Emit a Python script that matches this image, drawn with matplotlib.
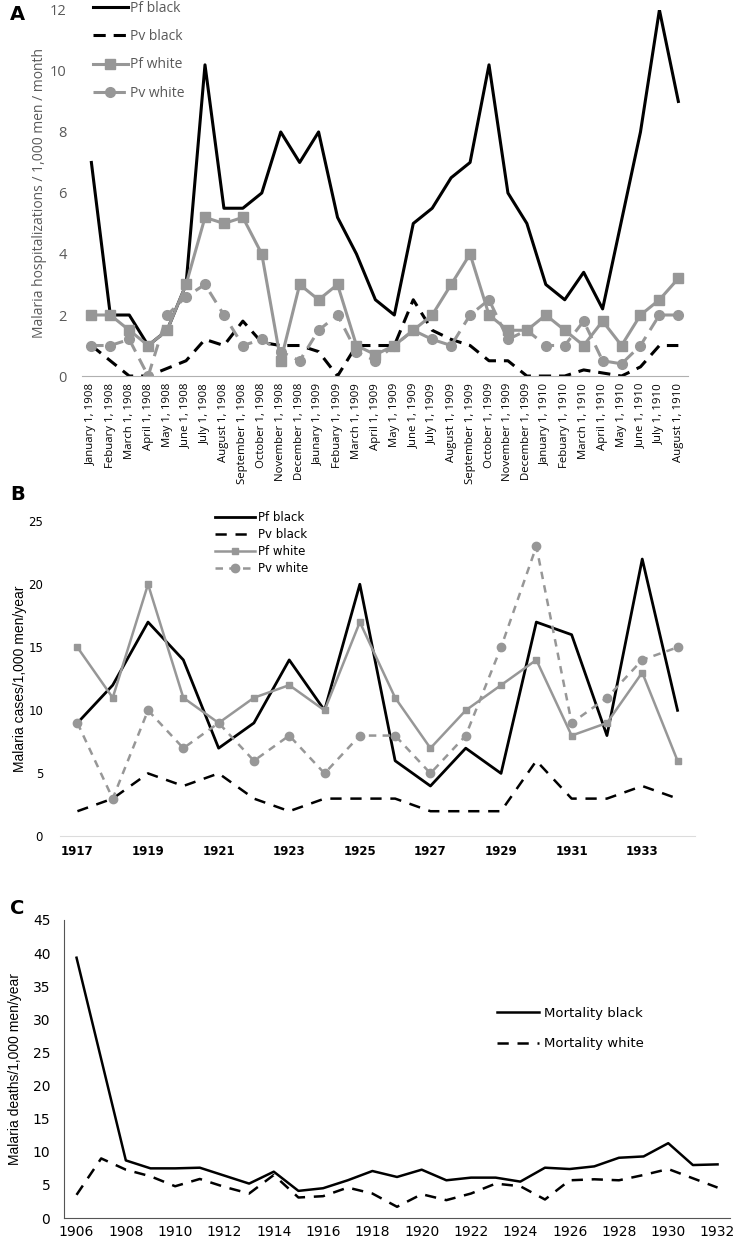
import numpy as np
import matplotlib
matplotlib.use("Agg")
import matplotlib.pyplot as plt

# ----------- Panel A data: monthly hospitalizations 1908-1910 -----------
months = ["January 1, 1908", "Febuary 1, 1908", "March 1, 1908", "April 1, 1908",
          "May 1, 1908", "June 1, 1908", "July 1, 1908", "August 1, 1908",
          "September 1, 1908", "October 1, 1908", "November 1, 1908", "December 1, 1908",
          "Jaunary 1, 1909", "Febuary 1, 1909", "March 1, 1909", "April 1, 1909",
          "May 1, 1909", "June 1, 1909", "July 1, 1909", "August 1, 1909",
          "September 1, 1909", "October 1, 1909", "November 1, 1909", "December 1, 1909",
          "January 1, 1910", "Febuary 1, 1910", "March 1, 1910", "April 1, 1910",
          "May 1, 1910", "June 1, 1910", "July 1, 1910", "August 1, 1910"]
a_pf_black = [7, 2, 2, 1, 1.5, 3, 10.2, 5.5, 5.5, 6, 8, 7, 8, 5.2, 4, 2.5,
              2, 5, 5.5, 6.5, 7, 10.2, 6, 5, 3, 2.5, 3.4, 2.2, 5.1, 8, 12, 9]
a_pv_black = [1, 0.5, 0, 0, 0.25, 0.5, 1.2, 1, 1.8, 1.1, 1, 1, 0.8, 0, 1, 1,
              1, 2.5, 1.5, 1.2, 1, 0.5, 0.5, 0, 0, 0, 0.2, 0.1, 0, 0.3, 1, 1]
a_pf_white = [2, 2, 1.5, 1, 1.5, 3, 5.2, 5, 5.2, 4, 0.5, 3, 2.5, 3, 1, 0.7,
              1, 1.5, 2, 3, 4, 2, 1.5, 1.5, 2, 1.5, 1, 1.8, 1, 2, 2.5, 3.2]
a_pv_white = [1, 1, 1.2, 0, 2, 2.6, 3, 2, 1, 1.2, 0.8, 0.5, 1.5, 2, 0.8, 0.5,
              1, 1.5, 1.2, 1, 2, 2.5, 1.2, 1.5, 1, 1, 1.8, 0.5, 0.4, 1, 2, 2]

# ----------- Panel B data: yearly cases 1917-1934 -----------
b_years = list(range(1917, 1935))
b_pf_black = [9, 12, 17, 14, 7, 9, 14, 10, 20, 6, 4, 7, 5, 17, 16, 8, 22, 10]
b_pv_black = [2, 3, 5, 4, 5, 3, 2, 3, 3, 3, 2, 2, 2, 6, 3, 3, 4, 3]
b_pf_white = [15, 11, 20, 11, 9, 11, 12, 10, 17, 11, 7, 10, 12, 14, 8, 9, 13, 6]
b_pv_white = [9, 3, 10, 7, 9, 6, 8, 5, 8, 8, 5, 8, 15, 23, 9, 11, 14, 15]

# ----------- Panel C data: yearly deaths 1906-1932 -----------
c_years = list(range(1906, 1933))
c_mort_black = [39.3, 24, 8.7, 7.5, 7.5, 7.6, 6.4, 5.2, 7.0, 4.1, 4.5, 5.7, 7.1, 6.2,
                7.3, 5.7, 6.1, 6.1, 5.5, 7.6, 7.4, 7.8, 9.1, 9.3, 11.3, 8.0, 8.1]
c_mort_white = [3.5, 9.0, 7.3, 6.3, 4.8, 5.9, 4.7, 3.7, 6.5, 3.1, 3.3, 4.6, 3.7, 1.7,
                3.6, 2.7, 3.7, 5.2, 4.8, 2.8, 5.7, 5.85, 5.7, 6.5, 7.4, 6.0, 4.6]

GRAY = "#979797"
TXT = "#595959"
narrow = ["Liberation Sans Narrow", "Liberation Sans"]

fig = plt.figure(figsize=(7.38, 12.41), dpi=100)

# ----------- A -----------
axA = fig.add_axes([0.111, 0.697, 0.821, 0.295])
xa = np.arange(len(months))
axA.plot(xa, a_pf_black, color="black", lw=2.2, label="Pf black")
axA.plot(xa, a_pv_black, color="black", lw=2.2, dashes=(4, 2.6), label="Pv black")
axA.plot(xa, a_pf_white, color=GRAY, lw=2.2, marker="s", ms=6.5, label="Pf white")
axA.plot(xa, a_pv_white, color=GRAY, lw=2.2, dashes=(4, 2.6), marker="o", ms=7,
         label="Pv white")
axA.set_xlim(-0.5, len(months) - 0.5)
axA.set_ylim(0, 12)
axA.set_yticks(range(0, 13, 2))
axA.set_xticks(xa)
axA.set_xticklabels(months, rotation=90, fontsize=8.2, color="black",
                    family="Open Sans")
axA.tick_params(axis="x", length=0, pad=5)
axA.tick_params(axis="y", length=0, pad=11, labelsize=10.5, labelcolor=TXT)
for s in ["top", "right", "left"]:
    axA.spines[s].set_visible(False)
axA.spines["bottom"].set_color("#b0b0b0")
axA.set_ylabel("Malaria hospitalizations / 1,000 men / month", fontsize=10,
               color=TXT, family="Open Sans")
axA.yaxis.set_label_coords(-0.058, 0.5)
for lab in axA.get_yticklabels():
    lab.set_family("Open Sans")
axA.legend(loc="upper left", bbox_to_anchor=(93 / 738, 1 - 1 / 1241),
           bbox_transform=fig.transFigure, frameon=False,
           labelcolor=TXT, handlelength=2.5, handletextpad=0.2,
           labelspacing=0.95, borderpad=0, borderaxespad=0,
           prop={"family": "Open Sans", "size": 10})
fig.text(10 / 738, 1 - 14 / 1241, "A", fontsize=14, fontweight="bold", va="center")

# ----------- B -----------
axB = fig.add_axes([0.081, 0.326, 0.861, 0.254])
xb = np.arange(len(b_years))
axB.plot(xb, b_pf_black, color="black", lw=2, label="Pf black")
axB.plot(xb, b_pv_black, color="black", lw=1.8, dashes=(4.5, 3.5), label="Pv black")
axB.plot(xb, b_pf_white, color=GRAY, lw=1.8, marker="s", ms=4.5, label="Pf white")
axB.plot(xb, b_pv_white, color=GRAY, lw=1.8, dashes=(3, 2.5), marker="o", ms=6,
         label="Pv white")
axB.set_xlim(-0.5, len(b_years) - 0.5)
axB.set_ylim(0, 25)
axB.set_yticks(range(0, 26, 5))
axB.set_xticks(xb[::2])
axB.set_xticklabels([str(y) for y in b_years[::2]], fontweight="bold", fontsize=8.5)
axB.tick_params(axis="x", length=0, pad=6)
axB.tick_params(axis="y", length=0, pad=12, labelsize=8.5)
for s in ["top", "right", "left"]:
    axB.spines[s].set_visible(False)
axB.spines["bottom"].set_color("#dcdcdc")
axB.set_ylabel("Malaria cases/1,000 men/year", fontsize=10, family=narrow)
axB.yaxis.set_label_coords(-0.052, 0.5)
axB.legend(loc="upper left", bbox_to_anchor=(215 / 738, 1 - 511 / 1241),
           bbox_transform=fig.transFigure, frameon=False, fontsize=8.5,
           handlelength=3.4, handletextpad=0.2, labelspacing=0.35,
           borderpad=0, borderaxespad=0)
fig.text(10 / 738, 1 - 494 / 1241, "B", fontsize=14, fontweight="bold", va="center")

# ----------- C -----------
axC = fig.add_axes([0.087, 0.0185, 0.902, 0.2402])
xc = np.arange(len(c_years))
axC.plot(xc, c_mort_black, color="black", lw=1.8, label="Mortality black")
axC.plot(xc, c_mort_white, color="black", lw=1.8, dashes=(4.5, 3.5),
         label="Mortality white")
axC.set_xlim(-0.5, len(c_years) - 0.5)
axC.set_ylim(0, 45)
axC.set_yticks(range(0, 46, 5))
axC.set_xticks(xc[::2])
axC.set_xticklabels([str(y) for y in c_years[::2]], fontsize=10)
axC.tick_params(axis="x", length=0, pad=5)
axC.tick_params(axis="y", length=0, pad=10, labelsize=10)
for s in ["top", "right"]:
    axC.spines[s].set_visible(False)
axC.spines["left"].set_color("#555555")
axC.spines["bottom"].set_color("#555555")
axC.set_ylabel("Malaria deaths/1,000 men/year", fontsize=10, family=narrow)
axC.yaxis.set_label_coords(-0.063, 0.5)
axC.legend(loc="upper left", bbox_to_anchor=(497 / 738, 1 - 1007 / 1241),
           bbox_transform=fig.transFigure, frameon=False, fontsize=9.5,
           handlelength=3.2, handletextpad=0.4, labelspacing=1.3,
           borderpad=0, borderaxespad=0)
fig.text(10 / 738, 1 - 908 / 1241, "C", fontsize=14, fontweight="bold", va="center")

fig.savefig("out.png", dpi=100)
